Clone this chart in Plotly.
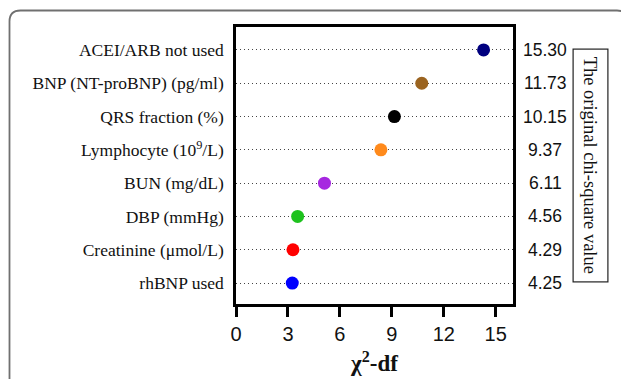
import plotly.graph_objects as go

categories = ["rhBNP used", "Creatinine (μmol/L)", "DBP (mmHg)", "BUN (mg/dL)",
              "Lymphocyte (10<sup>9</sup>/L)", "QRS fraction (%)",
              "BNP (NT-proBNP) (pg/ml)", "ACEI/ARB not used"]
chi_square = [4.25, 4.29, 4.56, 6.11, 9.37, 10.15, 11.73, 15.30]
df_values = [1, 1, 1, 1, 1, 1, 1, 1]
chi_minus_df = [c - d for c, d in zip(chi_square, df_values)]
chi_labels = ["4.25", "4.29", "4.56", "6.11", "9.37", "10.15", "11.73", "15.30"]
colors = ["#0000ff", "#ff0000", "#1ec21e", "#a628e0", "#ff8a1c", "#000000", "#9b6420", "#00007f"]
x_ticks = [0, 3, 6, 9, 12, 15]

OFF = 8  # browser body margin
W, H = 629 - OFF, 379 - OFF
L, R, T, B = 236 - OFF, 513 - OFF, 27 - OFF, 304 - OFF

def px(x):
    return (x - OFF - L) / (R - L)

def py(y):
    return (B - (y - OFF)) / (B - T)

idx = list(range(len(categories)))

fig = go.Figure()
fig.add_trace(go.Scatter(
    x=chi_minus_df, y=idx, mode="markers",
    marker=dict(color=colors, size=13, line=dict(width=0)),
    showlegend=False, cliponaxis=False,
))

for i, lab in zip(idx, chi_labels):
    fig.add_annotation(x=px(545), xref="paper", y=i, yref="y", text=lab,
                       showarrow=False, xanchor="center", yanchor="middle",
                       font=dict(family="Liberation Sans, Arial", size=17.5, color="#111"))

fig.add_annotation(x=px(591), xref="paper", y=py(165.5), yref="paper",
                   text="The original chi-square value", textangle=90,
                   showarrow=False, xanchor="center", yanchor="middle",
                   font=dict(family="Liberation Serif, Times New Roman", size=18.5, color="#111"),
                   bordercolor="#222", borderwidth=1.2, borderpad=7, bgcolor="white")

# outer rounded frame
x0, y0, x1, y1, r = 9.5, 10.5, 628, 400, 11
path = (f"M {px(x0)},{py(y1)} L {px(x0)},{py(y0 + r)} "
        f"Q {px(x0)},{py(y0)} {px(x0 + r)},{py(y0)} "
        f"L {px(x1 - r)},{py(y0)} Q {px(x1)},{py(y0)} {px(x1)},{py(y0 + r)} "
        f"L {px(x1)},{py(y1)}")
fig.add_shape(type="path", path=path, xref="paper", yref="paper",
              line=dict(color="#707070", width=1.8))

fig.update_layout(
    width=W, height=H,
    margin=dict(l=L, r=W - R, t=T, b=H - B, autoexpand=False),
    paper_bgcolor="white", plot_bgcolor="white",
    font=dict(family="Liberation Serif, Times New Roman", color="#111"),
)
fig.update_xaxes(
    range=[0, 16], tickvals=x_ticks, ticktext=[str(t) for t in x_ticks],
    ticks="outside", ticklen=10, tickwidth=2.5, tickcolor="black",
    showline=True, linewidth=2.5, linecolor="black", mirror=True,
    showgrid=False, zeroline=False, automargin=False,
    tickfont=dict(family="Liberation Sans, Arial", size=20, color="#111"),
    title=dict(text="<b>χ<sup>2</sup>-df</b>", standoff=12,
               font=dict(family="Liberation Serif, Times New Roman", size=23, color="#111")),
)
fig.update_yaxes(
    range=[-0.63, 7.69], tickvals=idx, ticktext=categories,
    showline=True, linewidth=2.5, linecolor="black", mirror=True,
    showgrid=True, gridcolor="#444", gridwidth=1, griddash="1px,3px",
    zeroline=False, ticks="", ticklabelstandoff=6, automargin=False,
    tickfont=dict(family="Liberation Serif, Times New Roman", size=17.5, color="#111"),
)

fig.write_html("out.html")
